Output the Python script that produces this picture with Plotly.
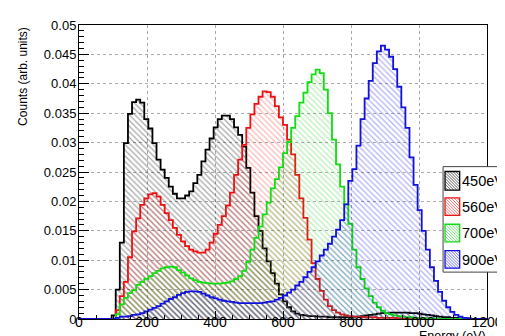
import plotly.graph_objects as go

# ---------------- data ----------------
BIN_WIDTH = 12
N_BINS = 100
bin_edges = [i * BIN_WIDTH for i in range(N_BINS + 1)]

series_names = ["450eV", "560eV", "700eV", "900eV"]

counts_450 = [0, 0, 0, 0, 0, 0, 0, 0,
              0.0006, 0.005, 0.013, 0.0299, 0.0349, 0.0369, 0.0373, 0.0368, 0.034, 0.0324,
              0.0299, 0.0271, 0.0254, 0.024, 0.0225, 0.0213, 0.0205, 0.0205, 0.021, 0.0217,
              0.0231, 0.0245, 0.0268, 0.0288, 0.0307, 0.0326, 0.034, 0.0346, 0.0346, 0.034,
              0.0326, 0.0313, 0.0293, 0.0257, 0.0215, 0.0175, 0.015, 0.012, 0.0098, 0.0078,
              0.006, 0.0042, 0.003, 0.002, 0.0013, 0.0009, 0.0007, 0.0006, 0.0005, 0.0005,
              0.0004, 0.0004, 0.0004, 0.0003, 0.0003, 0.0003, 0.0003, 0.0003, 0.0003, 0.0004,
              0.0004, 0.0005, 0.0006, 0.0007, 0.0008, 0.0009, 0.001, 0.001, 0.0011, 0.0011,
              0.0011, 0.0011, 0.0011, 0.001, 0.001, 0.0009, 0.0008, 0.0007, 0.0006, 0.0005,
              0.0004, 0.0003, 0.0003, 0.0002, 0.0002, 0.0001, 0.0001, 0.0001,
              0, 0, 0, 0]

counts_560 = [0, 0, 0, 0, 0, 0, 0, 0, 0,
              0.0015, 0.0039, 0.0063, 0.0105, 0.0149, 0.0171, 0.0194, 0.0205, 0.0212, 0.0214,
              0.0208, 0.0194, 0.018, 0.0168, 0.0155, 0.0143, 0.0132, 0.0124, 0.0118, 0.0115,
              0.0113, 0.0113, 0.0118, 0.013, 0.0145, 0.016, 0.0175, 0.0193, 0.0215, 0.0245,
              0.0271, 0.0296, 0.0325, 0.0348, 0.0366, 0.0378, 0.0387, 0.0386, 0.0378, 0.0362,
              0.0343, 0.033, 0.0305, 0.028, 0.0245, 0.0205, 0.0172, 0.0135, 0.0095, 0.0068,
              0.0048, 0.0033, 0.0022, 0.0015, 0.0011, 0.0008, 0.0006, 0.0005, 0.0004, 0.0004,
              0.0003, 0.0003, 0.0003, 0.0003, 0.0002, 0.0002, 0.0002, 0.0002, 0.0002, 0.0001,
              0.0001, 0.0001, 0.0001,
              0, 0, 0, 0, 0, 0, 0, 0, 0, 0, 0, 0, 0, 0, 0, 0, 0, 0]

counts_700 = [0, 0, 0, 0, 0, 0, 0, 0, 0,
              0.0008, 0.0025, 0.0036, 0.0044, 0.0049, 0.0058, 0.0063, 0.0068, 0.0073, 0.0078,
              0.0082, 0.0086, 0.0088, 0.0089, 0.0088, 0.0083, 0.0079, 0.0074, 0.0069, 0.0066,
              0.0063, 0.0062, 0.0061, 0.006, 0.006, 0.006, 0.0061, 0.0062, 0.0064, 0.0068,
              0.0073, 0.0082, 0.0097, 0.0118, 0.0138, 0.0157, 0.0178, 0.0198, 0.0222, 0.0238,
              0.0258, 0.0282, 0.0301, 0.0325, 0.0345, 0.0368, 0.0385, 0.0403, 0.0416, 0.0424,
              0.0418, 0.039, 0.035, 0.0305, 0.0263, 0.0225, 0.0195, 0.0162, 0.0118, 0.0088,
              0.0068, 0.0052, 0.0039, 0.0028, 0.002, 0.0014, 0.001, 0.0008, 0.0006, 0.0005,
              0.0004, 0.0003, 0.0003, 0.0002, 0.0002, 0.0002, 0.0001, 0.0001, 0.0001,
              0, 0, 0, 0, 0, 0, 0, 0, 0, 0, 0, 0]

counts_900 = [0, 0, 0, 0, 0, 0, 0, 0, 0,
              0.0002, 0.0004, 0.0004, 0.0005, 0.0007, 0.0008, 0.001, 0.0013, 0.0016, 0.0019,
              0.0022, 0.0026, 0.003, 0.0034, 0.0037, 0.0041, 0.0044, 0.0046, 0.0047, 0.0047,
              0.0046, 0.0043, 0.004, 0.0037, 0.0035, 0.0033, 0.0031, 0.003, 0.0029, 0.0028,
              0.0027, 0.0027, 0.0027, 0.0027, 0.0027, 0.0027, 0.0028, 0.0029, 0.003, 0.0033,
              0.0036, 0.004, 0.0045, 0.005, 0.0057, 0.0063, 0.0071, 0.008, 0.0088, 0.0098,
              0.0108, 0.0118, 0.0128, 0.014, 0.0152, 0.0168, 0.0195, 0.0235, 0.0255, 0.0295,
              0.034, 0.0375, 0.0405, 0.0435, 0.0455, 0.0465, 0.0458, 0.0446, 0.0425, 0.0395,
              0.036, 0.0325, 0.0275, 0.0228, 0.0185, 0.015, 0.0118, 0.0088, 0.0065, 0.0046,
              0.0031, 0.002, 0.0012, 0.0007, 0.0004, 0.0002, 0.0001,
              0, 0, 0, 0]

series_values = [counts_450, counts_560, counts_700, counts_900]

x_tick_values = [0, 200, 400, 600, 800, 1000, 1200]
y_tick_values = [0, 0.005, 0.01, 0.015, 0.02, 0.025, 0.03, 0.035, 0.04, 0.045, 0.05]

# ---------------- styles ----------------
line_colors = ["#000000", "#ee1111", "#11dd11", "#1111dd"]
hatch_colors = ["rgba(0,0,0,0.7)", "rgba(238,17,17,0.6)", "rgba(17,200,17,0.6)", "rgba(17,17,221,0.65)"]
FONT = "Liberation Sans, Arial, Helvetica, sans-serif"

W, H = 505, 336
L, R, T, B = 71, 16, 10, 25
PW, PH = W - L - R, H - T - B


def px_x(px):
    return (px - L) / PW


def px_y(py):
    return (H - B - py) / PH


def step_xy(values):
    xs, ys = [bin_edges[0]], [0]
    for i, v in enumerate(values):
        xs.append(bin_edges[i])
        ys.append(v)
    xs += [bin_edges[-1], bin_edges[-1]]
    ys += [values[-1], 0]
    return xs, ys


fig = go.Figure()
for name, vals, lc, hc in zip(series_names, series_values, line_colors, hatch_colors):
    xs, ys = step_xy(vals)
    fig.add_trace(go.Scatter(
        x=xs, y=ys, name=name, mode="lines", line_shape="hv",
        line=dict(color=lc, width=1.8),
        fill="tozeroy", fillcolor="rgba(0,0,0,0)",
        fillpattern=dict(shape="\\", fgcolor=hc, bgcolor="rgba(0,0,0,0)", size=4, solidity=0.3),
        showlegend=False, hoverinfo="skip",
    ))

fig.update_layout(
    width=W, height=H,
    margin=dict(l=L, r=R, t=T, b=B),
    paper_bgcolor="white", plot_bgcolor="white",
    font=dict(family=FONT, color="black"),
    showlegend=False,
)

grid = dict(showgrid=True, gridcolor="#aaaaaa", griddash="dot", gridwidth=1,
            showline=True, linecolor="black", linewidth=1, mirror=True,
            ticks="inside", tickcolor="black", zeroline=False)

fig.update_xaxes(range=[0, 1200], tickvals=x_tick_values, ticklen=8,
                 tickfont=dict(size=14, family=FONT), ticklabelstandoff=-10,
                 minor=dict(dtick=50, tick0=0, ticks="inside", ticklen=4, tickcolor="black", showgrid=False),
                 **grid)
fig.update_yaxes(range=[0, 0.05], tickvals=y_tick_values, ticklen=10,
                 tickfont=dict(size=13, family=FONT), ticklabelstandoff=-1,
                 minor=dict(dtick=0.001, tick0=0, ticks="inside", ticklen=5, tickcolor="black", showgrid=False),
                 **grid)

# axis titles (ROOT style: at the axis ends)
fig.add_annotation(text="Counts (arb. units)", textangle=-90, xref="paper", yref="paper",
                   x=px_x(13), y=1.0, xanchor="center", yanchor="top", showarrow=False,
                   font=dict(size=12, family=FONT))
fig.add_annotation(text="Energy (eV)", xref="paper", yref="paper",
                   x=px_x(490), y=px_y(319), xanchor="right", yanchor="top", showarrow=False,
                   font=dict(size=12.5, family=FONT))

# legend (ROOT TLegend look)
shapes = [dict(type="rect", xref="paper", yref="paper",
               x0=px_x(444), x1=px_x(508), y0=px_y(263), y1=px_y(155),
               line=dict(color="#444444", width=1), fillcolor="white", layer="above")]
icon_rows = [(160, 179), (187, 205), (214, 232), (241, 259)]
text_rows = [169.5, 196.5, 223, 250.5]
ix0, ix1 = 446, 461
for (iy0, iy1), ty, name, lc, hc in zip(icon_rows, text_rows, series_names, line_colors, hatch_colors):
    h = iy1 - iy0
    w = ix1 - ix0
    segs = []
    c = -h
    while c < w:
        t0 = max(0, -c)
        t1 = min(h, w - c)
        if t1 > t0:
            segs.append("M%.4f,%.4f L%.4f,%.4f" % (px_x(ix0 + c + t0), px_y(iy0 + t0),
                                                    px_x(ix0 + c + t1), px_y(iy0 + t1)))
        c += 3
    shapes.append(dict(type="path", xref="paper", yref="paper", path=" ".join(segs),
                       line=dict(color=hc, width=0.9), layer="above"))
    shapes.append(dict(type="rect", xref="paper", yref="paper",
                       x0=px_x(ix0), x1=px_x(ix1), y0=px_y(iy1), y1=px_y(iy0),
                       line=dict(color=lc, width=1.3), fillcolor="rgba(0,0,0,0)", layer="above"))
    fig.add_annotation(text=name, xref="paper", yref="paper", x=px_x(461.5), y=px_y(ty),
                       xanchor="left", yanchor="middle", showarrow=False,
                       font=dict(size=14.5, family=FONT, color="black"))
fig.update_layout(shapes=shapes)

fig.write_html("out.html")
